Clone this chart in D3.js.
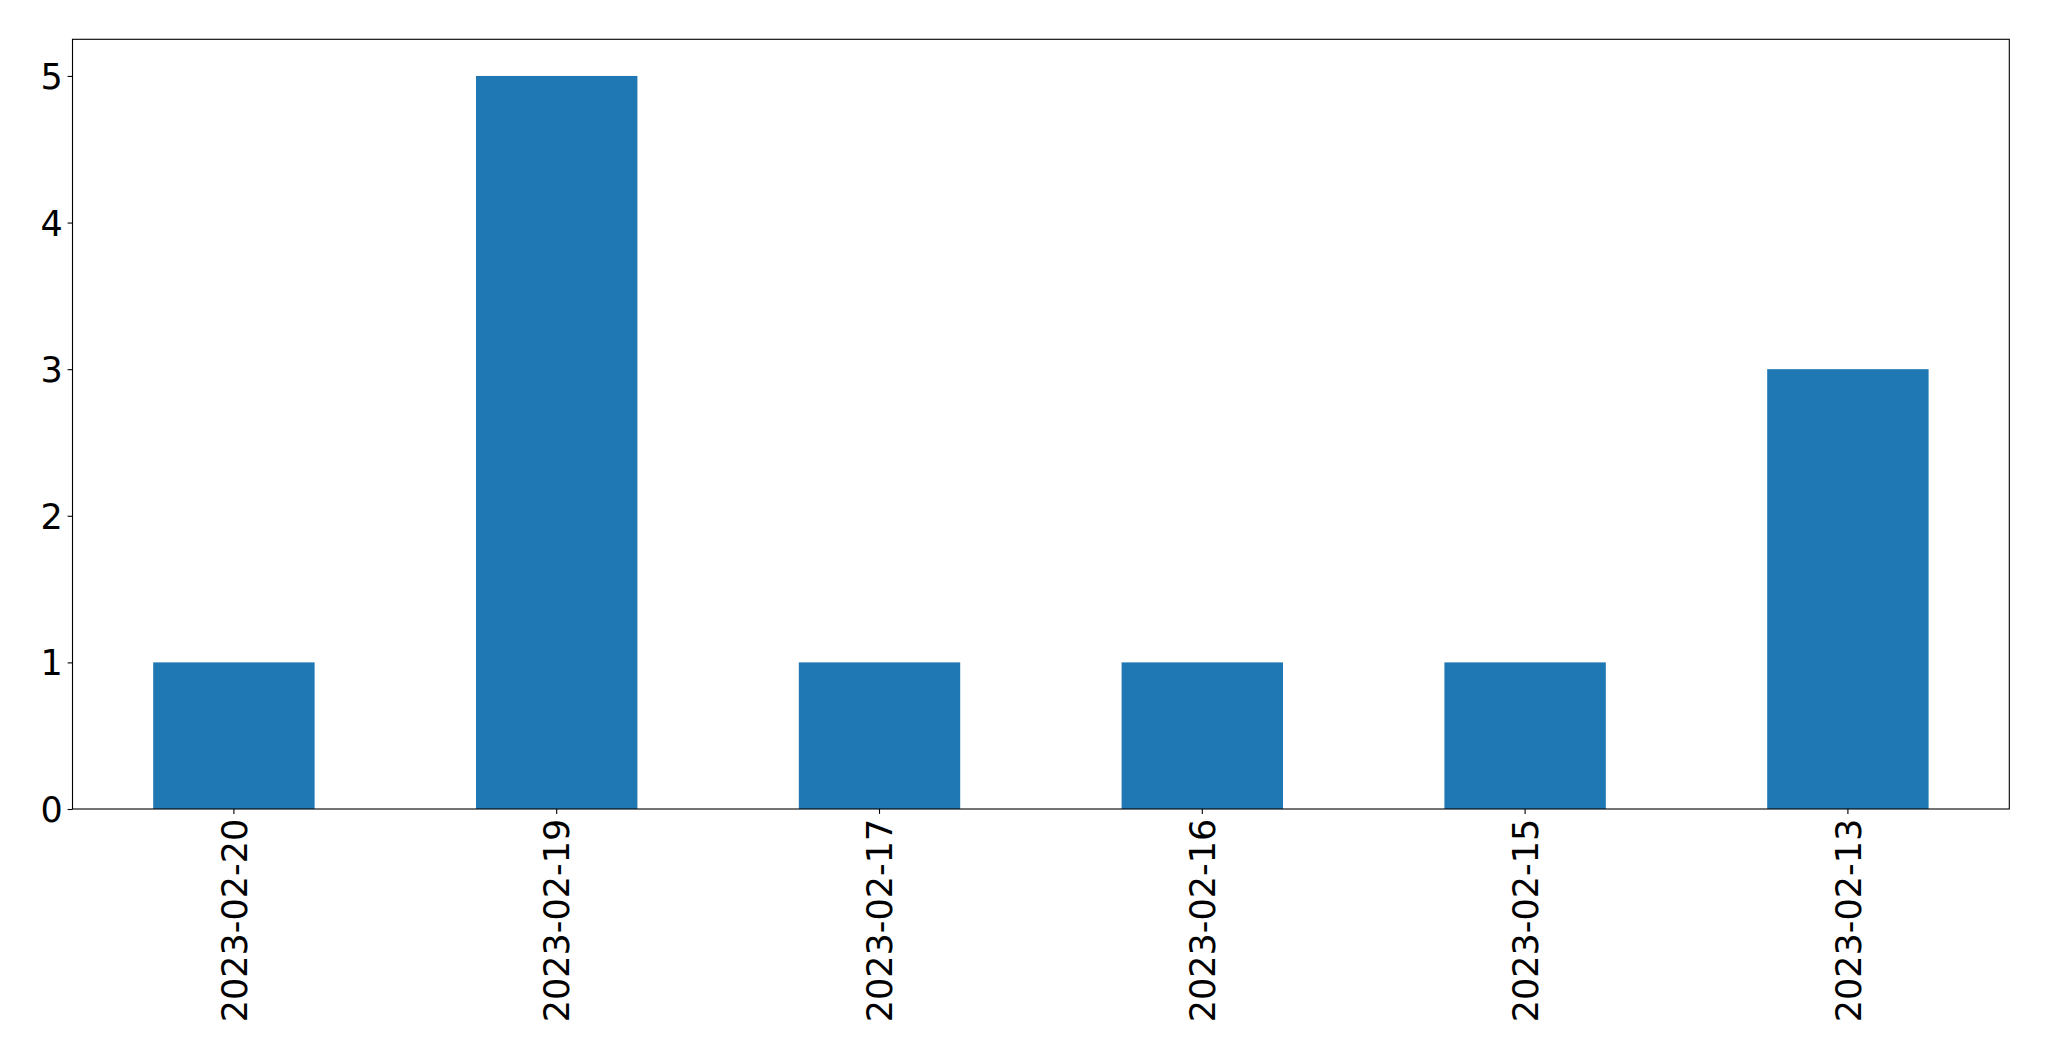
<!DOCTYPE html>
<html>
<head>
<meta charset="utf-8">
<script src="https://cdn.jsdelivr.net/npm/d3@7"></script>
<style>
html,body{margin:0;padding:0;background:#fff;}
svg{display:block;}
</style>
</head>
<body>
<script>
const categories = ["2023-02-20","2023-02-19","2023-02-17","2023-02-16","2023-02-15","2023-02-13"];
const values = [1,5,1,1,1,3];
const yTicks = [0,1,2,3,4,5];

const W = 2049, H = 1061;
const m = {left:72.5, right:2049-2009.3, top:39.3, bottom:1061-809};
const fontSize = 35;

const svg = d3.select("body").append("svg").attr("width",W).attr("height",H);

const x = d3.scaleBand().domain(categories)
  .range([m.left, W-m.right]).paddingInner(0.5).paddingOuter(0.25);
const y = d3.scaleLinear().domain([0,5.25]).range([H-m.bottom, m.top]);

svg.append("g").selectAll("rect").data(values).join("rect")
  .attr("x",(d,i)=>x(categories[i]))
  .attr("y",d=>y(d))
  .attr("width",x.bandwidth())
  .attr("height",d=>y(0)-y(d))
  .attr("fill","#1f77b4");

const yAxis = svg.append("g").attr("transform",`translate(${m.left},0)`)
  .call(d3.axisLeft(y).tickValues(yTicks).tickFormat(d3.format("d")).tickSize(4.9).tickPadding(4.9));
const xAxis = svg.append("g").attr("transform",`translate(0,${H-m.bottom})`)
  .call(d3.axisBottom(x).tickSize(4.9).tickPadding(4.9));

[yAxis,xAxis].forEach(g=>{
  g.select(".domain").remove();
  g.selectAll(".tick line").attr("stroke","#000").attr("stroke-width",1.1);
  g.selectAll(".tick text").attr("fill","#000")
    .style("font-family","'DejaVu Sans'").style("font-size",fontSize+"px");
});
yAxis.selectAll(".tick text").attr("dy","0.36em");
xAxis.selectAll(".tick text")
  .attr("text-anchor","end")
  .attr("transform","rotate(-90)")
  .attr("x",-9.8).attr("y",0).attr("dy","0.36em");

svg.append("rect")
  .attr("x",m.left).attr("y",m.top)
  .attr("width",W-m.right-m.left).attr("height",H-m.bottom-m.top)
  .attr("fill","none").attr("stroke","#000").attr("stroke-width",1.1);
</script>
</body>
</html>
